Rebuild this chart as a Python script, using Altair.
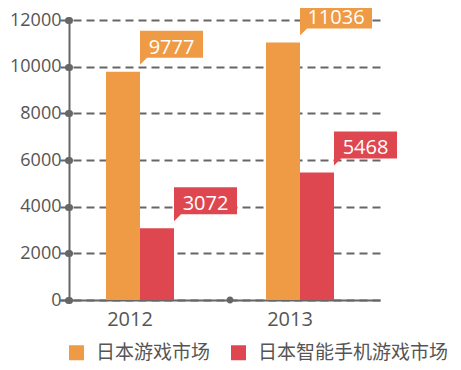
import altair as alt
import pandas as pd

years = ["2012", "2013"]
series = ["日本游戏市场", "日本智能手机游戏市场"]
japan_game = [9777, 11036]
japan_mobile = [3072, 5468]
y_ticks = [0, 2000, 4000, 6000, 8000, 10000, 12000]

rows = []
for i, yr in enumerate(years):
    rows.append({"year": yr, "series": series[0], "value": japan_game[i]})
    rows.append({"year": yr, "series": series[1], "value": japan_mobile[i]})
df = pd.DataFrame(rows)
df["label"] = df["value"].astype(str)
df["digits"] = df["label"].str.len()

colors = ["#EF9A44", "#DF4750"]
FONT = "Open Sans, Noto Sans CJK SC, sans-serif"
GRAY = "#666666"
TEXT = "#555555"

x_scale = alt.Scale(domain=years, range=[-9, 311], paddingInner=0.575, paddingOuter=0.2875)
xo_scale = alt.Scale(domain=series, paddingInner=0, paddingOuter=0)
y_scale = alt.Scale(domain=[0, 12000], nice=False)
c_scale = alt.Scale(domain=series, range=colors)

x_enc = alt.X("year:N", scale=x_scale, title=None,
              axis=alt.Axis(labelFontSize=20, labelColor=TEXT, labelFont=FONT, labelAngle=0,
                            ticks=False, domainColor=GRAY, domainWidth=2, labelPadding=9,
                            labelOffset=-10))
xo_enc = alt.XOffset("series:N", scale=xo_scale, sort=series)
y_enc = alt.Y("value:Q", scale=y_scale, title=None,
              axis=alt.Axis(values=y_ticks, format="d", labelFontSize=18, labelColor=TEXT,
                            labelFont=FONT, tickSize=1, tickWidth=7, tickCap="round",
                            tickColor=GRAY, domainColor=GRAY, domainWidth=2, grid=True,
                            gridColor=GRAY, gridDash=[8, 5], gridWidth=2, labelPadding=7))

base = alt.Chart(df)

bars = base.mark_bar().encode(
    x=x_enc, xOffset=xo_enc, y=y_enc,
    color=alt.Color("series:N", scale=c_scale, sort=series,
                    legend=alt.Legend(orient="none", legendX=-2, legendY=323,
                                      direction="horizontal", title=None,
                                      symbolType="square", symbolSize=225,
                                      symbolStrokeWidth=0, symbolOpacity=1,
                                      labelFontSize=19, labelFont=FONT, labelColor=TEXT,
                                      labelOffset=10, labelLimit=400,
                                      columnPadding=18, padding=0)),
)

def callout(digits, width):
    right = 17 + width
    path = f"M17,-7 L17,-41 L{right},-41 L{right},-14 L24,-14 Z"
    sub = base.transform_filter(alt.datum.digits == digits)
    box = sub.mark_point(shape=path, size=4, filled=True, opacity=1, strokeWidth=0).encode(
        x="year:N", xOffset=alt.XOffset("series:N", sort=series), y="value:Q",
        color=alt.Color("series:N", scale=c_scale, legend=None),
    )
    txt = sub.mark_text(color="white", fontSize=20, font=FONT, align="center",
                        baseline="alphabetic", dx=(17 + right) / 2, dy=-18).encode(
        x="year:N", xOffset=alt.XOffset("series:N", sort=series), y="value:Q",
        text="label:N",
    )
    return box + txt

# small dot on the category axis, between the two year groups
dot_path = "M52.5,0 A3.5,3.5 0 1,0 59.5,0 A3.5,3.5 0 1,0 52.5,0 Z"
dot = alt.Chart(pd.DataFrame({"k": [0]})).mark_point(
    shape=dot_path, size=4, filled=True, color=GRAY, opacity=1, strokeWidth=0).encode(
    x=alt.X(datum="2012", bandPosition=1), y=alt.Y(datum=0))

chart = alt.layer(bars, callout(4, 63), callout(5, 72), dot).properties(
    width=323, height=280,
    padding={"left": 61, "top": 12, "right": 61, "bottom": 62},
    autosize=alt.AutoSizeParams(type="none"),
    background="white",
).configure_view(stroke=None)

chart.save("out.html", embed_options={"renderer": "svg", "actions": False})
